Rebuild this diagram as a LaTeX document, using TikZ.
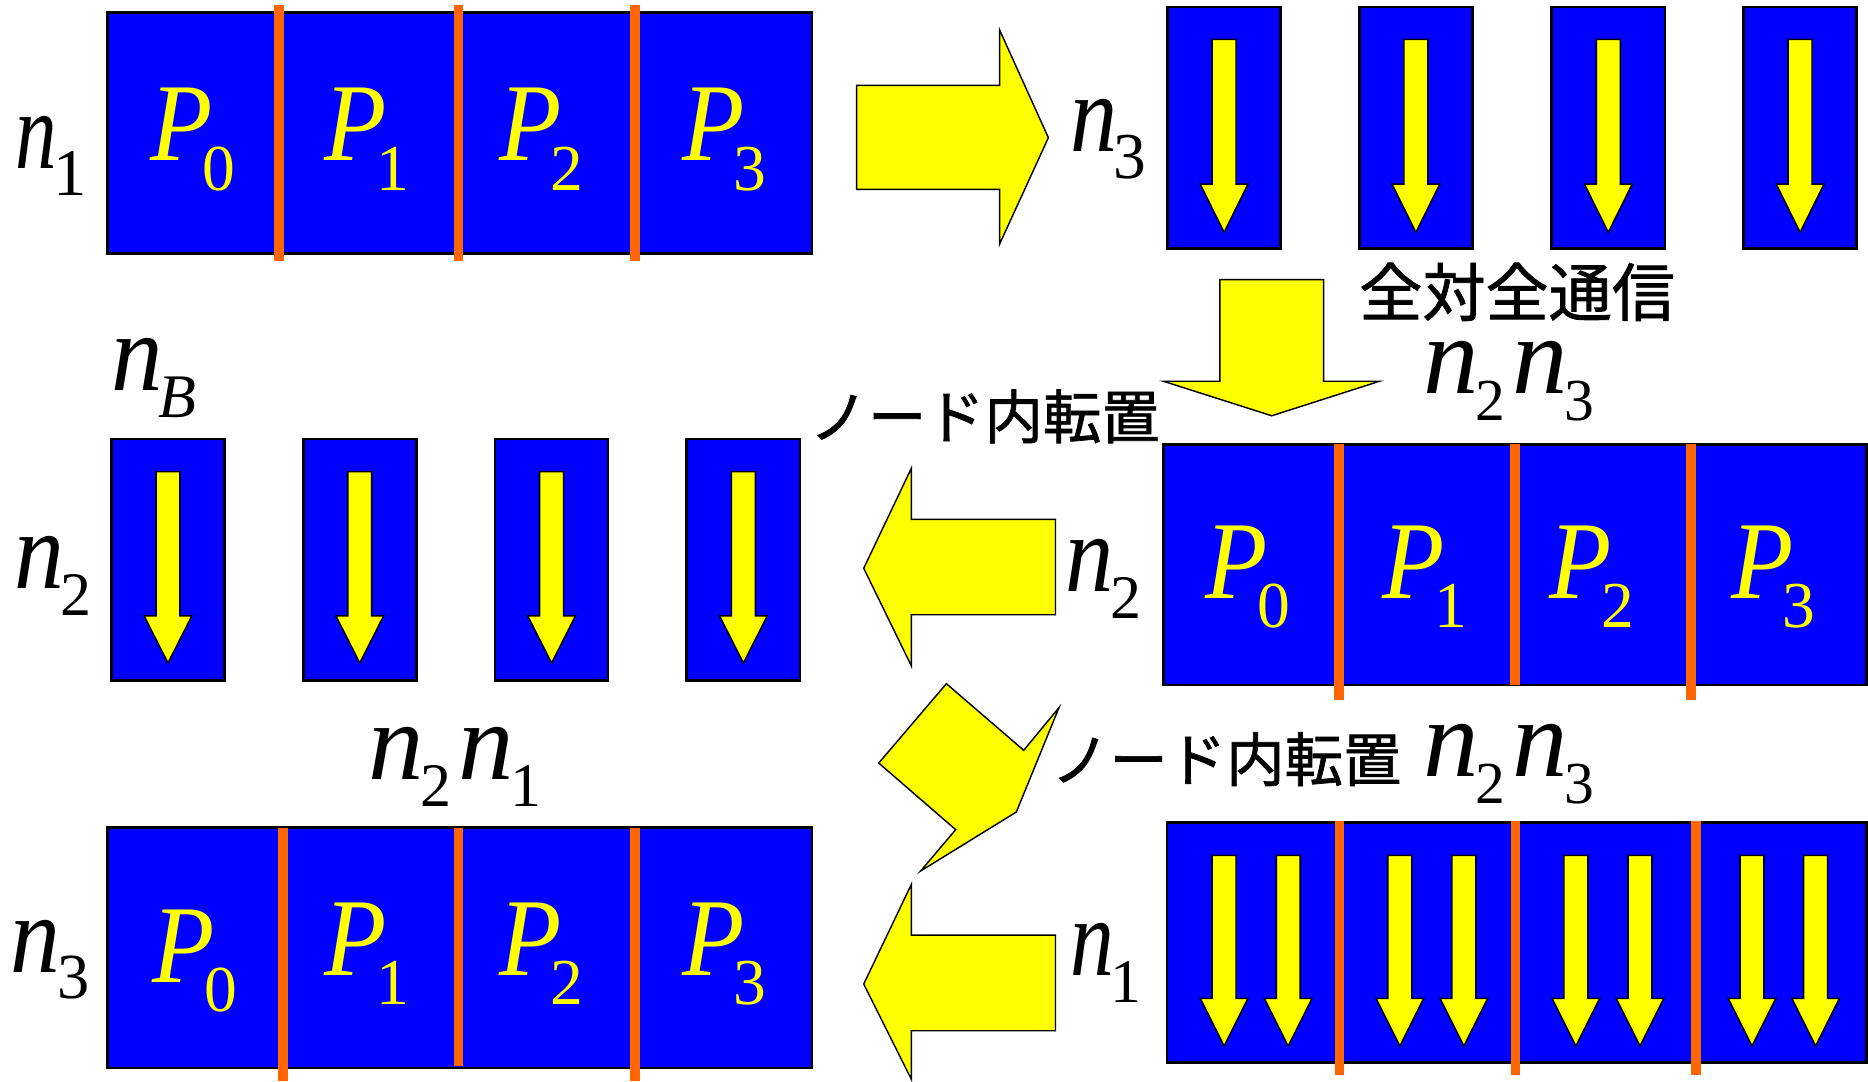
\documentclass[tikz,border=0pt]{standalone}
\usepackage{fontspec}
\setmainfont{Liberation Serif}
\newfontfamily\jp[FakeBold=1.2]{Noto Sans CJK JP}
\definecolor{bxblue}{RGB}{0,0,255}
\definecolor{sepor}{RGB}{255,102,0}
\definecolor{ylw}{RGB}{255,255,0}
% \nn[xscale of n]{subscript}{subscript size}
\newcommand\nn[3][1]{\scalebox{#1}[1]{\fontsize{93}{93}\selectfont\textit{n}}\kern-3pt\raisebox{-22.5pt}{\fontsize{#3}{#3}\selectfont #2}}
\newcommand\plab[1]{\scalebox{0.92}[1]{\fontsize{93}{93}\selectfont\textit{P}}\kern-9pt\raisebox{-24.5pt}{\fontsize{55}{55}\selectfont #1}}
\newcommand\darr[4]{\draw[yarr] ({#1-10},#2) -- ({#1+10},#2) -- ({#1+10},#3) -- ({#1+20},#3) -- (#1,#4) -- ({#1-20},#3) -- ({#1-10},#3) -- cycle;}
\tikzset{
  bluebox/.style={fill=bxblue, draw=black, line width=2.2pt},
  sepline/.style={draw=sepor, line width=8pt},
  yarr/.style={fill=ylw, draw=black, line width=1.2pt, line join=miter},
  lab/.style={anchor=base west, inner sep=0pt, text=black},
  plabel/.style={anchor=base west, inner sep=0pt, text=ylw},
  jptext/.style={inner sep=0pt, text=black},
}
\begin{document}
\begin{tikzpicture}[x=1pt,y=-1pt]
\useasboundingbox (0,0) rectangle (1568,907.4);
% ---------- Row 1 left big box
\draw[bluebox] (90,10.7) rectangle (681.5,213);
\foreach \sx in {234,385,533} \draw[sepline] (\sx,4) -- (\sx,219);
\node[plabel] (p10) at (126.5,135) {\plab{0}};
\node[plabel] (p11) at (272.5,135) {\plab{1}};
\node[plabel] (p12) at (419,135) {\plab{2}};
\node[plabel] (p13) at (572.5,135) {\plab{3}};
\node[lab] (n1a) at (12.5,141.4) {\nn[0.75]{1}{56}};
% right block arrow
\draw[yarr] (719,71.7) -- (839,71.7) -- (839,25) -- (880,115.6) -- (839,205) -- (839,159) -- (719,159) -- cycle;
\node[lab] (n3a) at (898,127.2) {\nn[0.85]{3}{55}};
% four narrow boxes row 1
\foreach \cx in {1027.5,1188.5,1350,1511} {
  \draw[bluebox] ({\cx-47.5},5.8) rectangle ({\cx+47.5},208.7);
  \darr{\cx}{33}{154.6}{195}
}
\node[jptext, font=\jp\fontsize{53}{53}\selectfont] (a2a) at (1273.5,245) {全対全通信};
% down block arrow
\draw[yarr] (1024,234.7) -- (1111,234.7) -- (1111,320) -- (1158,320) -- (1067.5,349) -- (976.5,320) -- (1024,320) -- cycle;
\node[lab] (n23a) at (1195,330.2) {\nn{2}{50}\kern6pt\nn{3}{50}};
\node[jptext, font=\jp\fontsize{49}{49}\selectfont] (tr1) at (826.5,349.5) {ノード内転置};
% ---------- Row 2 left narrow boxes
\node[lab] (nB) at (93,328) {\nn[0.93]{\textit{B}}{52}};
\foreach \cx in {141,302,463,624} {
  \draw[bluebox] ({\cx-47.5},368.5) rectangle ({\cx+47.5},571);
  \darr{\cx}{396}{517}{556.5}
}
\node[lab] (n2a) at (12,494) {\nn[0.9]{2}{52}};
% left block arrow row 2
\draw[yarr] (886,436) -- (765,436) -- (765,393) -- (725,477) -- (765,559) -- (765,516) -- (886,516) -- cycle;
\node[lab] (n2b) at (894.5,496.6) {\nn[0.87]{2}{52}};
% row 2 right big box
\draw[bluebox] (976.5,373) rectangle (1566.5,575);
\draw[sepline] (1124,373) -- (1124,587.5);
\draw[sepline] (1271.5,373) -- (1271.5,575);
\draw[sepline] (1419.5,373) -- (1419.5,587.5);
\node[plabel] (p20) at (1012,502.4) {\plab{0}};
\node[plabel] (p21) at (1160.5,502.4) {\plab{1}};
\node[plabel] (p22) at (1300.5,502.4) {\plab{2}};
\node[plabel] (p23) at (1453,502.4) {\plab{3}};
% ---------- Row 3
% diagonal block arrow
\draw[yarr] (737.6,640.5) -- (794.4,573.9) -- (859.3,629.8) -- (888.9,594.0) -- (853.1,681.6) -- (772.8,731.1) -- (802.2,696.4) -- cycle;
\node[jptext, font=\jp\fontsize{49}{49}\selectfont] (tr2) at (1029.3,637.3) {ノード内転置};
\node[lab] (n23b) at (1195,652) {\nn{2}{50}\kern6pt\nn{3}{50}};
% row 3 right big box with arrows
\draw[bluebox] (979.5,690.5) rectangle (1566.5,892);
\foreach \cx in {1027.5,1081.3,1175,1228.8,1322.8,1376.6,1470.6,1524} {
  \darr{\cx}{718}{838}{878}
}
\foreach \sx in {1124.2,1272,1423.6} \draw[sepline] (\sx,688.8) -- (\sx,902);
\node[lab] (n1b) at (898,819) {\nn[0.79]{1}{52}};
% left block arrow row 3
\draw[yarr] (886,785) -- (765,785) -- (765,742.3) -- (725,826) -- (765,906) -- (765,865.2) -- (886,865.2) -- cycle;
% row 3 left big box
\node[lab] (n21) at (309,654.2) {\nn{2}{52}\kern6pt\nn{1}{52}};
\draw[bluebox] (90,694.6) rectangle (681.5,896.4);
\draw[sepline] (237.5,694.6) -- (237.5,907.4);
\draw[sepline] (385,694.6) -- (385,895);
\draw[sepline] (533,694.6) -- (533,907.4);
\node[plabel] (p30) at (128,824.7) {\plab{0}};
\node[plabel] (p31) at (272.5,819) {\plab{1}};
\node[plabel] (p32) at (419,819) {\plab{2}};
\node[plabel] (p33) at (572.5,819) {\plab{3}};
\node[lab] (n3b) at (9,816) {\nn[0.9]{3}{54}};
\end{tikzpicture}
\end{document}
